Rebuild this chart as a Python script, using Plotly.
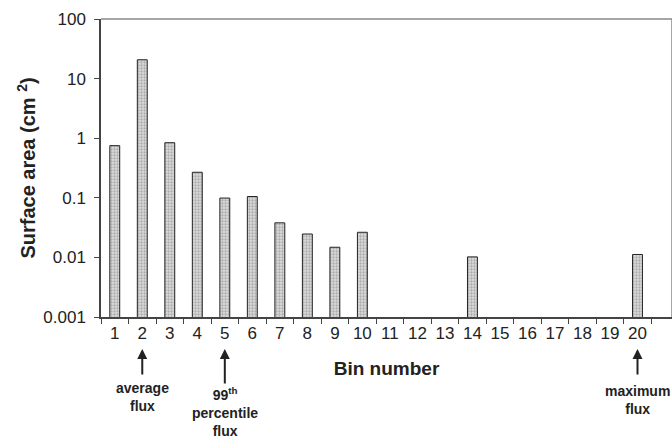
import plotly.graph_objects as go

bins = [str(i) for i in range(1, 21)]
area = [0.75, 20.7, 0.84, 0.268, 0.099, 0.105, 0.038, 0.0247, 0.0148, 0.0264,
        None, None, None, 0.0102, None, None, None, None, None, 0.0112]
ytick_vals = [0.001, 0.01, 0.1, 1, 10, 100]
ytick_text = ["0.001", "0.01", "0.1", "1", "10", "100"]

notes = [("2", "average<br>flux"), ("5", "99<sup>th</sup><br>percentile<br>flux"), ("20", "maximum<br>flux")]

FONT = "Arial, Liberation Sans, sans-serif"

fig = go.Figure()
fig.add_trace(go.Bar(
    x=bins, y=area,
    marker=dict(color="#d0d0d0",
                line=dict(color="#222222", width=1),
                pattern=dict(shape=".", fgcolor="#7a7a7a", bgcolor="#dcdcdc", size=3, solidity=0.45)),
    width=0.36,
))

fig.update_layout(
    width=672, height=442,
    margin=dict(l=101, r=0, t=19, b=125, autoexpand=False),
    plot_bgcolor="white", paper_bgcolor="white",
    showlegend=False,
    font=dict(family=FONT, color="#222222"),
    xaxis=dict(type="category", ticks="outside", tickson="boundaries", ticklen=5,
               tickangle=0, automargin=False,
               tickcolor="#444444", showline=True, linecolor="#444444", linewidth=1.5,
               tickfont=dict(size=17), showgrid=False,
               title=dict(text="<b>Bin number</b>", font=dict(size=19), standoff=20)),
    yaxis=dict(type="log", range=[-3, 2], tickvals=ytick_vals, ticktext=ytick_text,
               automargin=False, ticklabelstandoff=5,
               ticks="outside", ticklen=5, tickcolor="#444444", showline=True,
               linecolor="#444444", linewidth=1.5, tickfont=dict(size=17), showgrid=False,
               title=dict(text="<b>Surface area (cm <sup>2</sup>)</b>", font=dict(size=20), standoff=2)),
)

# top and right frame lines
fig.add_shape(type="line", xref="paper", yref="paper", x0=0, x1=1, y0=1, y1=1,
              line=dict(color="#888888", width=1.5))
fig.add_shape(type="line", xref="paper", yref="paper", x0=1, x1=1, y0=0, y1=1,
              line=dict(color="#888888", width=1.5))

for xb, txt in notes:
    idx = bins.index(xb)
    tall = xb == "5"
    fig.add_annotation(x=idx, xref="x", y=-0.107, yref="paper", text="", showarrow=True,
                       ax=0, ay=36 if tall else 27, arrowhead=2, arrowsize=1,
                       arrowwidth=2, arrowcolor="#222222")
    fig.add_annotation(x=idx, xref="x", y=-0.205 if xb == "2" else (-0.22 if tall else -0.215),
                       yref="paper", text=txt, showarrow=False, yanchor="top",
                       font=dict(size=14, family=FONT, color="#222222", weight="bold"))

fig.write_html("out.html")
